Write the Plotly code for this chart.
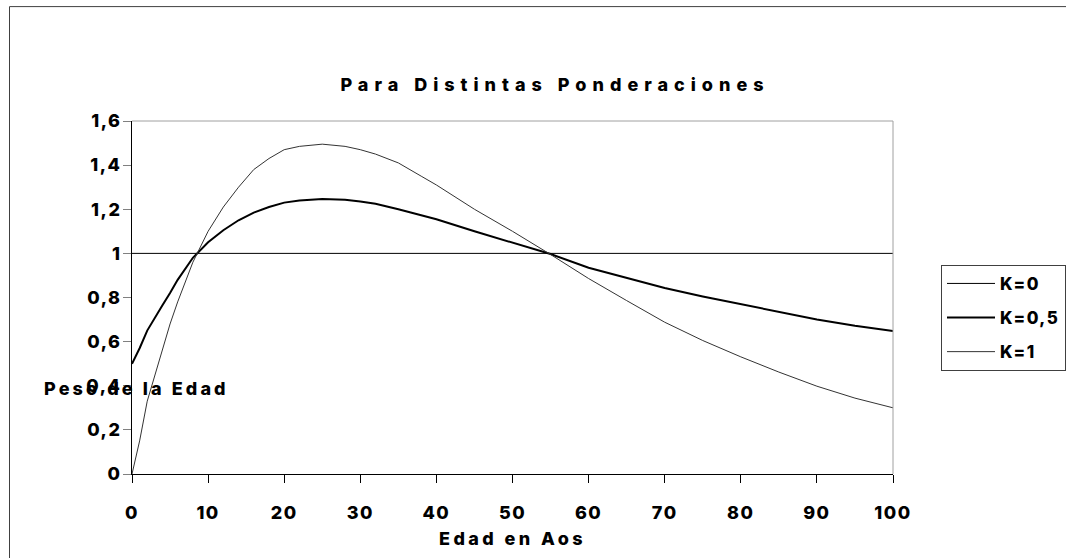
import plotly.graph_objects as go

# ---- data ----
edad = [0, 1, 2, 3, 4, 5, 6, 8, 10, 12, 14, 16, 18, 20, 22, 25, 28, 30, 32, 35,
        38, 40, 45, 50, 55, 60, 65, 70, 75, 80, 85, 90, 95, 100]
k0 = [1.0, 1.0, 1.0, 1.0, 1.0, 1.0, 1.0, 1.0, 1.0, 1.0, 1.0, 1.0, 1.0, 1.0, 1.0, 1.0, 1.0,
      1.0, 1.0, 1.0, 1.0, 1.0, 1.0, 1.0, 1.0, 1.0, 1.0, 1.0, 1.0, 1.0, 1.0, 1.0, 1.0, 1.0]
k05 = [0.50, 0.57, 0.65, 0.71, 0.765, 0.82, 0.88, 0.98, 1.05, 1.105, 1.15, 1.185, 1.21,
       1.23, 1.24, 1.247, 1.243, 1.235, 1.225, 1.20, 1.175, 1.155, 1.10, 1.05, 0.997,
       0.935, 0.888, 0.843, 0.805, 0.77, 0.735, 0.70, 0.672, 0.648]
k1 = [0.00, 0.15, 0.33, 0.45, 0.57, 0.68, 0.78, 0.96, 1.10, 1.21, 1.30, 1.38, 1.43,
      1.47, 1.485, 1.495, 1.485, 1.47, 1.45, 1.41, 1.35, 1.31, 1.20, 1.10, 0.995,
      0.886, 0.786, 0.688, 0.605, 0.531, 0.462, 0.398, 0.344, 0.30]
series_names = ["K=0", "K=0,5", "K=1"]
x_ticks = [0, 10, 20, 30, 40, 50, 60, 70, 80, 90, 100]
x_ticktext = ["0", "10", "20", "30", "40", "50", "60", "70", "80", "90", "100"]
y_ticks = [0, 0.2, 0.4, 0.6, 0.8, 1.0, 1.2, 1.4, 1.6]
y_ticktext = ["0", "0,2", "0,4", "0,6", "0,8", "1", "1,2", "1,4", "1,6"]
titulo = "Para Distintas Ponderaciones"
x_titulo = "Edad en Aos"
y_titulo = "Peso de la Edad"

FONT = "Inter, Roboto, DejaVu Sans, sans-serif"


def fnt(size=18, color="#010101"):
    return dict(family=FONT, size=size, color=color, weight=800)


fig = go.Figure()
fig.add_trace(go.Scatter(x=edad, y=k0, mode="lines", name=series_names[0],
                         line=dict(color="black", width=1), legendgroup="a"))
fig.add_trace(go.Scatter(x=edad, y=k05, mode="lines", name=series_names[1],
                         line=dict(color="black", width=2), legendgroup="b"))
fig.add_trace(go.Scatter(x=edad, y=k1, mode="lines", name=series_names[2],
                         line=dict(color="#333333", width=1), legendgroup="c"))

fig.update_layout(
    width=1066, height=558,
    margin=dict(l=132, r=173, t=121, b=84, pad=0, autoexpand=False),
    paper_bgcolor="white", plot_bgcolor="white",
    font=fnt(),
    showlegend=True,
    title=dict(text=titulo, x=555 / 1066, xref="container", xanchor="center",
               y=1 - 85 / 558, yref="container", yanchor="middle",
               font=fnt(18)),
    legend=dict(x=(941 - 132) / 761, y=(474.3 - 265) / 353.3, xanchor="left", yanchor="top",
                bordercolor="#404040", borderwidth=1, bgcolor="white",
                font=fnt(17), traceorder="grouped", tracegroupgap=9, itemwidth=48),
    xaxis=dict(range=[0, 100], tickvals=x_ticks, ticktext=x_ticktext,
               showgrid=False, zeroline=False, showline=True, linecolor="black",
               linewidth=1, ticks="outside", ticklen=8, tickcolor="black",
               ticklabelstandoff=14, tickfont=fnt(),
               title=dict(text=x_titulo, standoff=10, font=fnt())),
    yaxis=dict(range=[0, 1.6], tickvals=y_ticks, ticktext=y_ticktext,
               showgrid=False, zeroline=False, showline=True, linecolor="black",
               linewidth=1, ticks="outside", ticklen=8, tickcolor="#808080",
               ticklabelstandoff=-2, tickfont=fnt()),
    xaxis2=dict(range=[0, 100], overlaying="x", anchor="y", side="bottom",
                tickvals=x_ticks, showticklabels=False, ticks="inside", ticklen=7,
                tickcolor="black", showgrid=False, zeroline=False, showline=False),
    yaxis2=dict(range=[0, 1.6], overlaying="y", anchor="x", side="left",
                tickvals=y_ticks, showticklabels=False, ticks="inside", ticklen=7,
                tickcolor="#808080", showgrid=False, zeroline=False, showline=False),
    annotations=[dict(text=y_titulo, xref="paper", yref="paper",
                      x=(42 - 132) / 761, y=(474.3 - 389) / 353.3,
                      xanchor="left", yanchor="middle", showarrow=False,
                      font=fnt())],
    shapes=[
        dict(type="line", xref="paper", yref="paper", x0=0, x1=1, y0=1, y1=1,
             line=dict(color="#a0a0a0", width=1)),
        dict(type="line", xref="paper", yref="paper", x0=1, x1=1, y0=0, y1=1,
             line=dict(color="#a0a0a0", width=1)),
        dict(type="line", xref="paper", yref="paper", x0=(9.5 - 132) / 761,
             x1=(9.5 - 132) / 761, y0=-0.5, y1=(474.3 - 6.5) / 353.3,
             line=dict(color="#404040", width=1)),
        dict(type="line", xref="paper", yref="paper", x0=(9.5 - 132) / 761,
             x1=1.5, y0=(474.3 - 6.5) / 353.3, y1=(474.3 - 6.5) / 353.3,
             line=dict(color="#404040", width=1)),
    ],
)

# add letter spacing, then re-style fonts to black so that text is re-measured
post = (
    "document.body.style.margin='0';"
    "var s=document.createElement('style');"
    "s.innerHTML='body{margin:0}.gtitle{letter-spacing:6px}"
    ".xtick text,.ytick text{letter-spacing:1.5px}"
    ".g-xtitle text{letter-spacing:3.4px}.annotation-text{letter-spacing:3.1px}"
    ".legendtext{letter-spacing:1.5px}';"
    "document.head.appendChild(s);"
    "var gd=document.getElementById('{plot_id}');"
    "Plotly.relayout(gd, {'font.color':'black','title.font.color':'black',"
    "'legend.font.color':'black','xaxis.tickfont.color':'black',"
    "'yaxis.tickfont.color':'black','xaxis.title.font.color':'black',"
    "'annotations[0].font.color':'black'});"
)
fig.write_html("out.html", post_script=post, config={"displayModeBar": False})
